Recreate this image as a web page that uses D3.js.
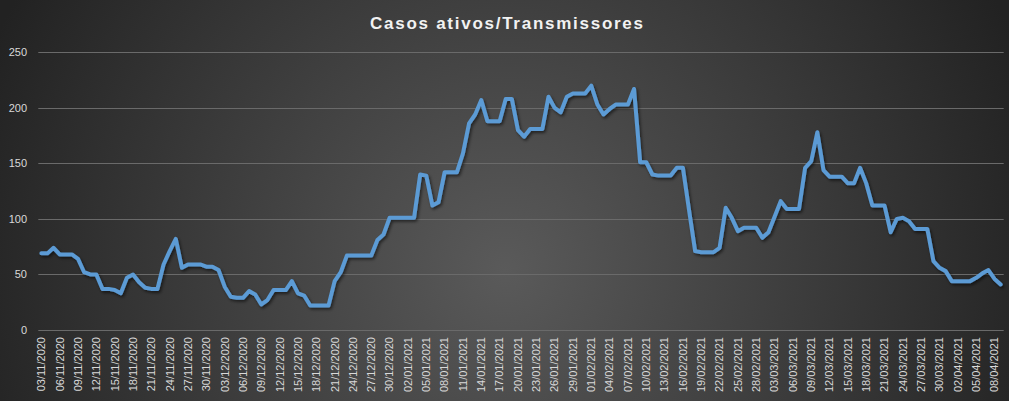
<!DOCTYPE html>
<html><head><meta charset="utf-8">
<script src="https://cdnjs.cloudflare.com/ajax/libs/d3/7.8.5/d3.min.js"></script>
<style>
html,body{margin:0;padding:0;background:#262626;}
svg{display:block;}
</style></head>
<body>
<div id="chart"></div>
<script>
const title = "Casos ativos/Transmissores";
const startDate = new Date(2020, 10, 3);
const endDate = new Date(2021, 3, 10);
const values = [
 69,69,74,68,68,68,64,52,50,50,
 37,37,36,33,47,50,43,38,37,37,
 59,71,82,56,59,59,59,57,57,54,
 39,30,29,29,35,32,23,27,36,36,
 36,44,33,31,22,22,22,22,44,52,
 67,67,67,67,67,81,86,101,101,101,
 101,101,140,139,112,115,142,142,142,159,
 186,194,207,188,188,188,208,208,180,174,
 181,181,181,210,200,196,210,213,213,213,
 220,203,194,199,203,203,203,217,151,151,
 140,139,139,139,146,146,108,71,70,70,
 70,74,110,101,89,92,92,92,83,88,
 102,116,109,109,109,146,152,178,144,138,
 138,138,132,132,146,132,112,112,112,88,
 100,101,98,91,91,91,62,56,53,44,
 44,44,44,47,51,54,46,41
];
const yTicks = [0, 50, 100, 150, 200, 250];

const fmt = d3.timeFormat("%d/%m/%Y");
const categories = d3.timeDay.range(startDate, endDate).map(fmt);
const data = categories.slice(0, values.length).map((c, i) => ({c, v: values[i]}));

const W = 1009, H = 401;
const m = {left: 38.3, right: 1009 - 1003.7, top: 52.3, bottom: 401 - 330};

const svg = d3.select("#chart").append("svg").attr("width", W).attr("height", H);
const defs = svg.append("defs");
const grad = defs.append("radialGradient").attr("id", "bg")
  .attr("gradientUnits", "userSpaceOnUse")
  .attr("cx", 505).attr("cy", 270).attr("r", 560);
grad.append("stop").attr("offset", "0%").attr("stop-color", "#5a5a5a");
grad.append("stop").attr("offset", "100%").attr("stop-color", "#222222");
const f = defs.append("filter").attr("id", "sh").attr("x", "-5%").attr("y", "-5%").attr("width", "110%").attr("height", "120%");
f.append("feDropShadow").attr("dx", 1.5).attr("dy", 2).attr("stdDeviation", 1.5)
  .attr("flood-color", "#000").attr("flood-opacity", 0.55);

svg.append("rect").attr("width", W).attr("height", H).attr("fill", "url(#bg)");

const x = d3.scaleBand().domain(data.map(d => d.c)).range([m.left, W - m.right]).padding(0);
const y = d3.scaleLinear().domain([0, 250]).range([H - m.bottom, m.top]);

// gridlines
svg.append("g").selectAll("line").data(yTicks).join("line")
  .attr("x1", m.left).attr("x2", W - m.right)
  .attr("y1", d => Math.round(y(d)) + 0.5).attr("y2", d => Math.round(y(d)) + 0.5)
  .attr("stroke", "#6a6a6a").attr("stroke-width", 1);

// y axis labels
const yAxis = d3.axisLeft(y).tickValues(yTicks).tickSize(0).tickPadding(0);
const gy = svg.append("g").attr("transform", `translate(27,0)`).call(yAxis);
gy.select(".domain").remove();
gy.selectAll("text").attr("fill", "#d9d9d9").style("font", "11px 'Liberation Sans', Arial, sans-serif");

// x axis labels
const xTickVals = data.map(d => d.c).filter((c, i) => i % 3 === 0);
const xAxis = d3.axisBottom(x).tickValues(xTickVals).tickSize(0).tickPadding(0);
const gx = svg.append("g").attr("transform", `translate(0,${H - m.bottom})`).call(xAxis);
gx.select(".domain").remove();
gx.selectAll("text")
  .attr("fill", "#d9d9d9")
  .style("font", "11px 'Liberation Sans', Arial, sans-serif")
  .attr("text-anchor", "end")
  .attr("transform", "rotate(-90)")
  .attr("x", -7).attr("y", 0).attr("dy", "0.35em");

// line
const line = d3.line().x(d => x(d.c) + x.bandwidth() / 2).y(d => y(d.v));
svg.append("path").datum(data)
  .attr("d", line).attr("fill", "none")
  .attr("stroke", "#5b9bd5").attr("stroke-width", 4)
  .attr("stroke-linejoin", "round").attr("stroke-linecap", "round")
  .attr("filter", "url(#sh)");

// title
svg.append("text").attr("x", W / 2 + 2).attr("y", 29)
  .attr("text-anchor", "middle")
  .attr("fill", "#f2f2f2")
  .style("font", "bold 17px 'Liberation Sans', Arial, sans-serif")
  .attr("textLength", 273).attr("lengthAdjust", "spacing")
  .text(title);
</script>
</body></html>
